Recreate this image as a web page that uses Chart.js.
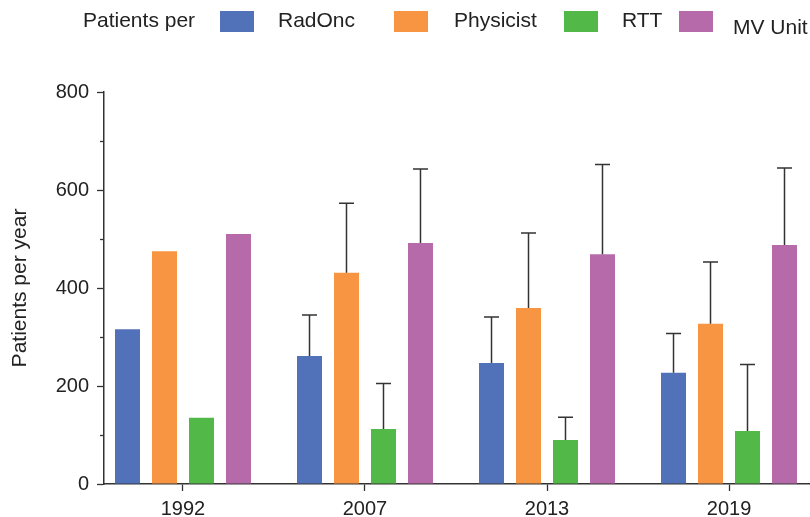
<!DOCTYPE html>
<html>
<head>
<meta charset="utf-8">
<title>Patients per year</title>
<script src="https://cdn.jsdelivr.net/npm/chart.js@4.4.1/dist/chart.umd.min.js"></script>
<style>
  html, body { margin: 0; padding: 0; background: #fff; }
  #wrap { width: 810px; height: 517px; }
</style>
</head>
<body>
<div id="wrap"><canvas id="chart" width="810" height="517"></canvas></div>
<script>
// dados
const years = ['1992', '2007', '2013', '2019']
const seriesNames = ['RadOnc', 'Physicist', 'RTT', 'MV Unit']
const seriesColors = ['#5172B9', '#F79542', '#52B848', '#B76AAA']

const radOnc = [316, 261, 247, 227]
const physicist = [475, 431, 359, 327]
const rtt = [135, 112, 90, 108]
const mvUnit = [510, 492, 469, 488]

// desvio (só a barra de cima), 1992 sem barra
const radOncErr = [null, 84, 94, 80]
const physicistErr = [null, 142, 153, 126]
const rttErr = [null, 93, 46, 136]
const mvUnitErr = [null, 151, 183, 157]

const yTicks = [0, 200, 400, 600, 800]

const FONT = "'Liberation Sans', Arial, Helvetica, sans-serif"
const TEXT = '#222'
const AXIS = '#333'

const values = [radOnc, physicist, rtt, mvUnit]
const errors = [radOncErr, physicistErr, rttErr, mvUnitErr]

const datasets = seriesNames.map((name, s) => ({
  label: name,
  data: values[s].map((v, i) => ({ x: i, y: v })),
  errors: errors[s],
  backgroundColor: seriesColors[s],
  borderWidth: 0,
  categoryPercentage: 0.813,
  barPercentage: 0.676
}))

// barras de erro (somente para cima)
const errorBarsPlugin = {
  id: 'errorBars',
  afterDatasetsDraw(chart) {
    const ctx = chart.ctx
    const yScale = chart.scales.y
    ctx.save()
    ctx.strokeStyle = AXIS
    ctx.lineWidth = 1.5
    chart.data.datasets.forEach((ds, d) => {
      const meta = chart.getDatasetMeta(d)
      meta.data.forEach((bar, i) => {
        const err = ds.errors[i]
        if (err == null) return
        const top = yScale.getPixelForValue(ds.data[i].y + err)
        ctx.beginPath()
        ctx.moveTo(bar.x, bar.y)
        ctx.lineTo(bar.x, top)
        ctx.moveTo(bar.x - 7.5, top)
        ctx.lineTo(bar.x + 7.5, top)
        ctx.stroke()
      })
    })
    ctx.restore()
  }
}

// ticks menores do eixo y (100, 300, ...)
const minorTicksPlugin = {
  id: 'minorTicks',
  afterDraw(chart) {
    const ctx = chart.ctx
    const y = chart.scales.y
    const x0 = chart.chartArea.left
    ctx.save()
    ctx.strokeStyle = AXIS
    ctx.lineWidth = 1.3
    for (let v = 100; v < 800; v += 200) {
      const py = Math.round(y.getPixelForValue(v)) + 0.5
      ctx.beginPath()
      ctx.moveTo(x0 - 4, py)
      ctx.lineTo(x0, py)
      ctx.stroke()
    }
    ctx.restore()
  }
}

// legenda desenhada à mão, como no original
const legendPlugin = {
  id: 'customLegend',
  afterDraw(chart, args, opts) {
    const ctx = chart.ctx
    ctx.save()
    ctx.font = `21px ${FONT}`
    ctx.fillStyle = TEXT
    ctx.textBaseline = 'alphabetic'
    ctx.fillText(opts.title, opts.titleX, opts.baseline)
    chart.data.datasets.forEach((ds, i) => {
      const item = opts.items[i]
      ctx.fillStyle = ds.backgroundColor
      ctx.fillRect(item.box, opts.boxTop, opts.boxW, opts.boxH)
      ctx.fillStyle = TEXT
      ctx.fillText(ds.label, item.text, item.baseline || opts.baseline)
    })
    ctx.restore()
  }
}

const ctx = document.getElementById('chart').getContext('2d')
new Chart(ctx, {
  type: 'bar',
  data: { datasets },
  plugins: [errorBarsPlugin, minorTicksPlugin, legendPlugin],
  options: {
    responsive: false,
    animation: false,
    devicePixelRatio: 1,
    layout: { padding: { top: 92, right: 0, bottom: 0, left: 0 } },
    scales: {
      x: {
        type: 'linear',
        offset: false,
        min: -0.434,
        max: 3.445,
        afterBuildTicks: (scale) => {
          scale.ticks = years.map((_, i) => ({ value: i }))
        },
        afterFit: (scale) => { scale.height = 33 },
        border: { display: true, color: AXIS, width: 1.5 },
        grid: { display: true, offset: false, drawOnChartArea: false, drawTicks: true, tickLength: 7, tickColor: AXIS, tickWidth: 1.3 },
        ticks: {
          autoSkip: false,
          maxRotation: 0,
          padding: 6,
          color: TEXT,
          font: { family: FONT, size: 20 },
          callback: (v) => years[v]
        }
      },
      y: {
        min: 0,
        max: 800,
        afterBuildTicks: (scale) => {
          scale.ticks = yTicks.map(v => ({ value: v }))
        },
        afterFit: (scale) => { scale.width = 104 },
        border: { display: true, color: AXIS, width: 1.5 },
        grid: { display: true, drawOnChartArea: false, drawTicks: true, tickLength: 7, tickColor: AXIS, tickWidth: 1.3 },
        ticks: {
          padding: 8,
          color: TEXT,
          font: { family: FONT, size: 20 }
        },
        title: {
          display: true,
          text: 'Patients per year',
          color: TEXT,
          font: { family: FONT, size: 21 },
          padding: { top: 8, bottom: 0 }
        }
      }
    },
    plugins: {
      legend: { display: false },
      tooltip: { enabled: false },
      customLegend: {
        title: 'Patients per',
        titleX: 83,
        baseline: 27,
        boxTop: 11,
        boxW: 34,
        boxH: 21,
        items: [
          { box: 220, text: 278 },
          { box: 394, text: 454 },
          { box: 564, text: 622 },
          { box: 679, text: 733, baseline: 34 }
        ]
      }
    }
  }
})
</script>
</body>
</html>
